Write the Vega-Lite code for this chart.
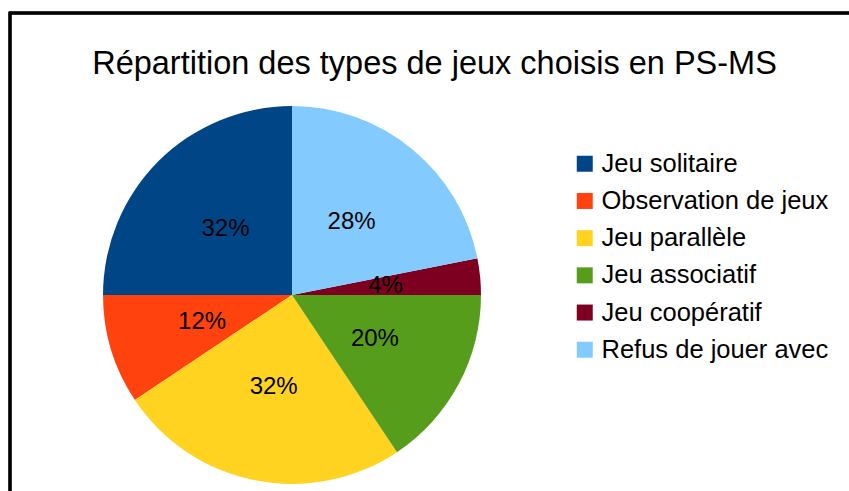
{
  "$schema": "https://vega.github.io/schema/vega-lite/v6.json",
  "autosize": "none",
  "padding": {"left": 10, "top": 13, "right": 0, "bottom": 0},
  "width": 845,
  "height": 500,
  "background": "white",
  "config": {
    "font": "Liberation Sans",
    "view": {"stroke": null}
  },
  "title": {
    "text": "Répartition des types de jeux choisis en PS-MS",
    "font": "Liberation Sans",
    "fontSize": 32.5,
    "fontWeight": "normal",
    "color": "#000000",
    "anchor": "middle",
    "frame": "group",
    "baseline": "alphabetic",
    "offset": -95,
    "dx": 2
  },
  "data": {
    "values": [
      {"type": "Jeu solitaire", "value": 32, "ord": 6},
      {"type": "Observation de jeux", "value": 12, "ord": 5},
      {"type": "Jeu parallèle", "value": 32, "ord": 4},
      {"type": "Jeu associatif", "value": 20, "ord": 3},
      {"type": "Jeu coopératif", "value": 4, "ord": 2},
      {"type": "Refus de jouer avec", "value": 28, "ord": 1}
    ]
  },
  "transform": [{"calculate": "datum.value + '%'", "as": "label"}],
  "layer": [
    {
      "mark": {"type": "rect", "fill": null, "stroke": "#000000", "strokeWidth": 2.5, "x": 0, "y": 0, "x2": {"expr": "width"}, "y2": {"expr": "height"}, "clip": false},
      "encoding": {}
    },
    {
      "mark": {"type": "arc", "outerRadius": 189, "x": 282, "y": 282},
      "encoding": {
        "theta": {"field": "value", "type": "quantitative", "stack": true},
        "order": {"field": "ord", "type": "quantitative"},
        "color": {
          "field": "type",
          "type": "nominal",
          "sort": ["Jeu solitaire", "Observation de jeux", "Jeu parallèle", "Jeu associatif", "Jeu coopératif", "Refus de jouer avec"],
          "scale": {
            "domain": ["Jeu solitaire", "Observation de jeux", "Jeu parallèle", "Jeu associatif", "Jeu coopératif", "Refus de jouer avec"],
            "range": ["#004586", "#ff420e", "#ffd320", "#579d1c", "#7e0021", "#83caff"]
          },
          "legend": {
            "title": null,
            "orient": "none",
            "legendX": 562,
            "legendY": 138,
            "symbolType": "square",
            "symbolSize": 256,
            "symbolStrokeWidth": 0,
            "symbolOpacity": 1,
            "labelFont": "Liberation Sans",
            "labelFontSize": 25.5,
            "labelColor": "#000000",
            "labelLimit": 400,
            "labelOffset": 4,
            "rowPadding": 10.2,
            "padding": 0
          }
        }
      }
    },
    {
      "mark": {"type": "text", "radius": 94, "x": 282, "y": 282, "fontSize": 24, "font": "Liberation Sans", "color": "#000000", "baseline": "middle", "align": "center"},
      "encoding": {
        "theta": {"field": "value", "type": "quantitative", "stack": true},
        "order": {"field": "ord", "type": "quantitative"},
        "text": {"field": "label", "type": "nominal"}
      }
    }
  ]
}
